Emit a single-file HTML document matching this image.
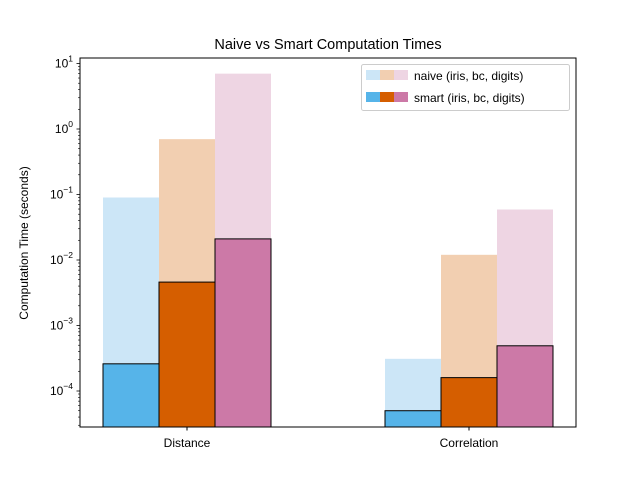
<!DOCTYPE html>
<html><head><meta charset="utf-8"><style>
body{margin:0;background:#fff}
svg{font-family:"Liberation Sans","DejaVu Sans",sans-serif}
</style></head><body>
<svg id="chart" width="640" height="480" viewBox="0 0 640 480" xmlns="http://www.w3.org/2000/svg">
<rect width="640" height="480" fill="#fff"/>
<text x="328" y="49" font-size="14.5" text-anchor="middle">Naive vs Smart Computation Times</text>
<text transform="translate(28,243) rotate(-90)" font-size="12" text-anchor="middle">Computation Time (seconds)</text>
<g id="bars"></g>
<g id="axes"></g>
<g>
<rect x="361.5" y="64.5" width="208" height="46" fill="#fff" stroke="#ccc" rx="2"/>
<rect x="366" y="70" width="14" height="10" fill="#cce6f7"/>
<rect x="380" y="70" width="14" height="10" fill="#f2cfb1"/>
<rect x="394" y="70" width="14" height="10" fill="#eed5e3"/>
<text x="414" y="80" font-size="12">naive (iris, bc, digits)</text>
<rect x="366" y="92" width="14" height="10" fill="#56b4e9"/>
<rect x="380" y="92" width="14" height="10" fill="#d55e00"/>
<rect x="394" y="92" width="14" height="10" fill="#cc79a7"/>
<text x="414" y="102" font-size="12">smart (iris, bc, digits)</text>
</g>
</svg>
<script>
const categories = ["Distance", "Correlation"];
const datasets = ["iris", "bc", "digits"];
const naiveValues = [[0.09, 0.7, 7.0], [3.1e-4, 0.012, 0.059]];
const smartValues = [[2.6e-4, 4.6e-3, 0.021], [5.0e-5, 1.6e-4, 4.9e-4]];
const tickExps = [-4, -3, -2, -1, 0, 1];

{
const NS = "http://www.w3.org/2000/svg";
const pLeft = 80, pRight = 576, pTop = 58, pBottom = 427;
const y0 = 129, dec = 65.5;
const yScale = v => y0 - Math.log10(v) * dec;
const groupCenters = [187, 469], barW = 56;
const xScale = (ci, di) => groupCenters[ci] + (di - 1.5) * barW;
const naiveColors = ["#cce6f7", "#f2cfb1", "#eed5e3"];
const smartColors = ["#56b4e9", "#d55e00", "#cc79a7"];

const mk = (tag, attrs, parent) => {
  const e = document.createElementNS(NS, tag);
  for (const k in attrs) e.setAttribute(k, attrs[k]);
  parent.appendChild(e); return e;
};
const bars = document.getElementById("bars");
const axes = document.getElementById("axes");
categories.forEach((c, ci) => {
  datasets.forEach((d, di) => {
    const yt = yScale(naiveValues[ci][di]);
    const r = mk("rect", {x: xScale(ci, di), y: yt, width: barW, height: pBottom - yt, fill: naiveColors[di]}, bars);
    
    
  });
});
categories.forEach((c, ci) => {
  datasets.forEach((d, di) => {
    const yt = yScale(smartValues[ci][di]);
    const r = mk("rect", {x: xScale(ci, di), y: yt, width: barW, height: pBottom - yt, fill: smartColors[di], stroke: "#000", "stroke-width": 1}, bars);
    
    
  });
});
const fr = mk("rect", {x: pLeft, y: pTop, width: pRight - pLeft, height: pBottom - pTop, fill: "none", stroke: "#000", "stroke-width": 1}, axes);


for (let e = -5; e <= 1; e++) {
  for (let m = 1; m < 10; m++) {
    const yy = yScale(m * Math.pow(10, e));
    if (yy < pTop || yy > pBottom) continue;
    mk("line", {x1: pLeft, x2: pLeft - (m === 1 ? 3.5 : 2), y1: yy, y2: yy, stroke: "#000", "stroke-width": m === 1 ? 0.8 : 0.6}, axes);
  }
}
tickExps.forEach(e => {
  const yy = yScale(Math.pow(10, e));
  const t = mk("text", {x: pLeft - 7, y: yy + 4, "font-size": 12, "text-anchor": "end"}, axes);
  
  
  t.textContent = "10";
  const s = mk("tspan", {dy: -6, "font-size": 8.5}, t);
  s.textContent = String(e).replace("-", "\u2212");
});
categories.forEach((c, ci) => {
  mk("line", {x1: groupCenters[ci], x2: groupCenters[ci], y1: pBottom, y2: pBottom + 3.5, stroke: "#000"}, axes);
  const t = mk("text", {x: groupCenters[ci], y: pBottom + 20, "font-size": 12, "text-anchor": "middle"}, axes);
  
  
  t.textContent = c;
});
}
</script>
</body></html>
